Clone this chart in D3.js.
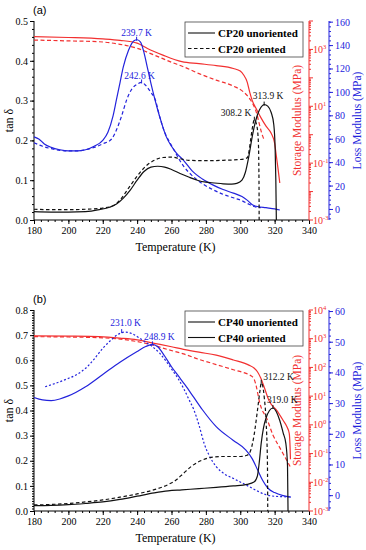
<!DOCTYPE html>
<html>
<head>
<meta charset="utf-8">
<script src="https://cdn.jsdelivr.net/npm/d3@7"></script>
<style>
body{margin:0;background:#fff}
text{font-family:"Liberation Serif",serif !important}
text.sans{font-family:"Liberation Sans",Arial,sans-serif !important}
</style>
</head>
<body>
<div id="chart"></div>
<script>
//----------------------------- DATA -----------------------------//
// temperature ticks (K)
const tempTicks=[180,200,220,240,260,280,300,320,340];

// panel (a) CP20 : [T (K), tan delta]
const tanUnorA=[[180,0.021],[190,0.02],[200,0.02],[210,0.021],[218,0.026],[224,0.032],[228,0.04],[232,0.055],[236,0.075],[240,0.1],[244,0.122],[248,0.133],[252,0.135],[256,0.133],[260,0.127],[265,0.117],[270,0.108],[275,0.1],[280,0.095],[285,0.093],[290,0.091],[295,0.09],[298,0.092],[301,0.1],[303,0.12],[305,0.16],[307,0.21],[309,0.25],[311,0.275],[313,0.288],[314,0.29],[316,0.286],[318,0.27],[319.5,0.24],[320.3,0.18],[320.7,0.1],[321,0.0]];
const tanOriA=[[180,0.027],[190,0.026],[200,0.026],[210,0.027],[220,0.03],[226,0.036],[230,0.05],[235,0.08],[240,0.11],[245,0.135],[250,0.15],[255,0.157],[260,0.158],[265,0.154],[270,0.15],[280,0.149],[290,0.15],[300,0.152],[304,0.156],[305,0.17],[306,0.2],[307,0.23],[308.2,0.252],[309.5,0.24],[310.5,0.2],[310.9,0.1],[311,0.0]];
// storage modulus, log10(MPa)
const storUnorA=[[180,3.45],[200,3.42],[220,3.37],[230,3.32],[240,3.22],[246,3.03],[255,2.8],[266,2.57],[276,2.5],[286,2.43],[296,2.33],[300,2.24],[302,2.1],[304,1.86],[305.5,1.5],[307,1.2],[309,0.95],[312,0.6],[315,0.3],[318,0.05],[320,-0.3],[321,-0.75],[322,-1.2],[323,-1.7]];
const storOriA=[[180,3.33],[200,3.3],[218,3.27],[230,3.18],[240,3.04],[250,2.8],[260,2.55],[267,2.39],[276,2.15],[286,1.92],[296,1.71],[302,1.5],[306,1.22],[308,1.0],[309.5,0.76],[311,0.4],[312.5,0.05],[314,-0.2]];
// loss modulus (MPa)
const lossUnorA=[[180,62],[183,60],[186,56],[190,53],[195,51],[200,50],[205,50],[210,51],[215,54],[220,59],[223,66],[226,80],[228,94],[230,108],[232,122],[235,136],[238,144],[240,145],[242,143],[244,134],[246,121],[248,108],[250,96],[252,85],[254,75],[257,62],[260,54],[263,48],[267,42],[272,33],[278,26],[284,21],[290,17],[296,14],[301,11],[304,8],[307,4],[310,2.5],[315,1.5],[320,0.5],[323,-0.5]];
const lossOriA=[[180,57],[185,54],[190,52],[195,50.5],[200,50],[205,50],[210,51],[215,53],[220,56],[225,60],[228,68],[231,80],[234,94],[237,103],[240,107],[242.6,108.5],[245,106],[248,100],[250.5,94],[253,80],[256,66],[258,60],[261,52],[264,44],[267,37],[272,29],[278,22],[284,17],[290,13],[296,10],[301,7.5],[305,4.5],[308,2.5],[312,1.5]];

// panel (b) CP40
const tanUnorB=[[180,0.021],[190,0.022],[200,0.025],[210,0.03],[220,0.036],[230,0.046],[240,0.059],[250,0.072],[258,0.08],[266,0.084],[276,0.089],[286,0.094],[296,0.1],[304,0.106],[308,0.115],[310,0.14],[311,0.19],[312.2,0.27],[313.5,0.33],[315,0.37],[317,0.4],[319,0.41],[321,0.395],[323,0.36],[325,0.31],[326.5,0.27],[327.5,0.18],[327.8,0.0]];
const tanOriB=[[180,0.024],[190,0.026],[200,0.03],[210,0.036],[220,0.044],[230,0.055],[240,0.068],[250,0.085],[258,0.105],[263,0.125],[267,0.15],[272,0.18],[277,0.2],[282,0.212],[290,0.217],[300,0.217],[304,0.222],[306,0.24],[308,0.3],[310,0.4],[311.5,0.48],[312.2,0.51],[313,0.5],[314,0.45],[315,0.36],[315.8,0.2],[316,0.0]];
const storUnorB=[[180,3.1],[200,3.09],[218,3.07],[230,3.02],[240,2.96],[250,2.84],[260,2.72],[267,2.63],[276,2.53],[286,2.43],[296,2.26],[305,2.08],[308,1.98],[310,1.85],[312,1.62],[314,1.3],[317,0.81],[321,0.52],[325,0.15],[327,-0.05],[328.5,-0.3],[329,-0.8],[329.2,-1.2]];
const storOriB=[[180,3.07],[200,3.06],[220,3.03],[235,2.95],[249,2.78],[258,2.62],[267,2.47],[276,2.28],[286,2.1],[296,1.92],[303,1.8],[306,1.72],[308,1.6],[309.5,1.3],[311,0.85],[312.5,0.55],[315,0.28],[319,-0.35],[324,-0.9],[329,-1.45]];
const lossUnorB=[[180,32],[185,31.2],[190,31],[195,31.5],[200,32.5],[210,35.5],[220,39.5],[230,43.5],[240,47],[245,48.6],[249,49.3],[252,48.5],[256,45.5],[260,42],[264,39],[268,36],[273,32],[278,28],[286,22.5],[296,18],[303,15],[307,12],[310,8.5],[313,5],[316,2.5],[320,1],[325,0],[329.5,-0.5]];
const lossOriB=[[186.5,35.5],[192,36.5],[199,38],[205,39.5],[210,41.5],[215,44.5],[220,48],[225,50.8],[229,52.6],[233,53.3],[237,52.8],[241,51.5],[245,50],[249,48.5],[253,46.5],[257,43.7],[261,40.5],[264,38],[267,35],[270,31.5],[273,28],[276,23],[279,17],[282,13],[286,9.5],[291,7],[296,5.6],[305,3],[310,1.5],[315,0.3],[320,-0.2],[328.7,-0.4]];

// peak annotations: text, T, value, which axis
const peaksA=[["239.7 K",239.7,145,"loss"],["242.6 K",242.6,108.5,"loss"],["313.9 K",313.9,0.29,"tan"],["308.2 K",308.2,0.252,"tan"]];
const peaksB=[["231.0 K",231.0,53.3,"loss"],["248.9 K",248.9,49.3,"loss"],["312.2 K",312.2,0.51,"tan"],["319.0 K",319.0,0.41,"tan"]];

const legendA=["CP20 unoriented","CP20 oriented"];
const legendB=["CP40 unoriented","CP40 oriented"];

//--------------------------- DRAWING ----------------------------//
const RED="#f23030", BLUE="#2323dc", BLACK="#111";
const SERIF="'Liberation Serif', serif";
const left=34, right=309;

const svg=d3.select("#chart").append("svg")
    .attr("width",366).attr("height",550)
    .style("font-family",SERIF);

const x=d3.scaleLinear().domain([180,340]).range([left,right]);

function txt(g){
    return g.append("text").style("font-family",SERIF);
}

function sup(g,xx,yy,exp,color){
    const t=txt(g).attr("x",xx).attr("y",yy)
        .attr("fill",color).style("font-size","10px").text("10");
    t.append("tspan").attr("dy",-4).style("font-size","6.5px").text(exp);
}

function drawPanel(p){
    const g=svg.append("g");
    const top=p.top, bot=p.bottom;

    const yT=d3.scaleLinear().domain([0,p.tanMax]).range([bot,top]);
    const yR=d3.scaleLog().domain([1e-3,1e4]).range([bot,top]);
    const yB=d3.scaleLinear().domain(p.lossDomain).range([bot,top]);

    //------ x axis
    g.append("g").attr("transform","translate(0,"+bot+")")
        .call(d3.axisBottom(x).tickValues(d3.range(180,341,4)).tickSize(2).tickFormat(""))
        .call(a=>a.select(".domain").remove());
    const xa=g.append("g").attr("transform","translate(0,"+bot+")")
        .attr("font-family",null)
        .call(d3.axisBottom(x).tickValues(tempTicks).tickSize(4).tickPadding(3).tickFormat(d3.format("d")));
    xa.attr("font-family",SERIF);
    xa.selectAll("text").style("font-size","10px").style("font-family",SERIF);
    xa.select(".domain").attr("d","M"+left+",0H"+right);

    //------ left axis
    g.append("g").attr("transform","translate("+left+",0)")
        .call(d3.axisLeft(yT).tickValues(d3.range(0,p.tanMax+1e-9,p.tanMinor)).tickSize(2).tickFormat(""))
        .call(a=>a.select(".domain").remove());
    const ya=g.append("g").attr("transform","translate("+left+",0)")
        .call(d3.axisLeft(yT).tickValues(d3.range(0,p.tanMax+1e-9,0.1)).tickSize(4).tickPadding(2).tickFormat(d3.format(".1f")));
    ya.attr("font-family",SERIF);
    ya.selectAll("text").style("font-size","10px").style("font-family",SERIF);
    ya.select(".domain").attr("d","M0,"+bot+"V"+top);

    //------ red log axis
    const ra=g.append("g").attr("stroke",RED);
    ra.append("line").attr("x1",right).attr("x2",right).attr("y1",top).attr("y2",bot);
    for(let e=-3;e<=4;e++){
        ra.append("line").attr("x1",right).attr("x2",right+4)
            .attr("y1",yR(Math.pow(10,e))).attr("y2",yR(Math.pow(10,e)));
        if(e<4) for(let m=2;m<=9;m++){
            const v=m*Math.pow(10,e);
            ra.append("line").attr("x1",right).attr("x2",right+2).attr("y1",yR(v)).attr("y2",yR(v));
        }
    }
    p.redLabels.forEach(e=>sup(g,right+4,yR(Math.pow(10,e))+3.5,String(e),RED));

    //------ blue linear axis
    const bx=right+20;
    const ba=g.append("g").attr("stroke",BLUE);
    ba.append("line").attr("x1",bx).attr("x2",bx).attr("y1",top).attr("y2",bot);
    d3.range(Math.ceil(p.lossDomain[0]/p.lossMinor)*p.lossMinor,p.lossDomain[1],p.lossMinor).forEach(v=>{
        ba.append("line").attr("x1",bx).attr("x2",bx+2).attr("y1",yB(v)).attr("y2",yB(v));
    });
    p.lossTicks.forEach(v=>{
        ba.append("line").attr("x1",bx).attr("x2",bx+4).attr("y1",yB(v)).attr("y2",yB(v));
        txt(g).attr("x",bx+6).attr("y",yB(v)+3.5).attr("fill",BLUE)
            .style("font-size","10px").text(v);
    });

    //------ axis titles
    txt(g).attr("x",(left+right)/2+4).attr("y",bot+31)
        .attr("text-anchor","middle").style("font-size","12px").text("Temperature (K)");
    txt(g).attr("transform","translate(13,"+((top+bot)/2)+") rotate(-90)")
        .attr("text-anchor","middle").style("font-size","12px").text("tan δ");
    txt(g).attr("transform","translate("+(right-8)+","+((top+bot)/2)+") rotate(-90)")
        .attr("text-anchor","middle").attr("fill",RED).style("font-size","11.5px").text("Storage Modulus (MPa)");
    txt(g).attr("transform","translate(361,"+((top+bot)/2)+") rotate(-90)")
        .attr("text-anchor","middle").attr("fill",BLUE).style("font-size","11.5px").text("Loss Modulus (MPa)");
    g.append("text").attr("class","sans").attr("x",33).attr("y",top-7)
        .style("font-size","11px").text(p.letter);

    //------ curves
    const lineT=d3.line().x(d=>x(d[0])).y(d=>yT(d[1])).curve(d3.curveMonotoneX);
    const lineR=d3.line().x(d=>x(d[0])).y(d=>yR(Math.pow(10,d[1]))).curve(d3.curveMonotoneX);
    const lineB=d3.line().x(d=>x(d[0])).y(d=>yB(d[1])).curve(d3.curveMonotoneX);
    const curves=[
        [lineR(p.storUnor),RED,null],[lineR(p.storOri),RED,"4,2.5"],
        [lineB(p.lossUnor),BLUE,null],[lineB(p.lossOri),BLUE,p.blueDash],
        [lineT(p.tanUnor),BLACK,null],[lineT(p.tanOri),BLACK,"3.5,2.5"]
    ];
    g.selectAll(".curve").data(curves).enter().append("path")
        .attr("d",d=>d[0]).attr("fill","none").attr("stroke",d=>d[1])
        .attr("stroke-width",1.2).attr("stroke-dasharray",d=>d[2]);

    //------ peak labels
    p.peaks.forEach((pk,i)=>{
        const px=x(pk[1]);
        const py=pk[3]=="tan"?yT(pk[2]):yB(pk[2]);
        const off=p.peakOff[i];
        txt(g).attr("x",px+off[0]).attr("y",py+off[1])
            .attr("text-anchor",off[2]).attr("fill",pk[3]=="tan"?BLACK:BLUE)
            .style("font-size","9.5px").text(pk[0]);
        g.append("line").attr("x1",px).attr("x2",px).attr("y1",py-3).attr("y2",py+1)
            .attr("stroke",pk[3]=="tan"?BLACK:BLUE).attr("stroke-width",1);
    });

    //------ legend
    const lg=g.append("g").attr("transform","translate(185,"+(top+1)+")");
    lg.append("rect").attr("width",118).attr("height",35)
        .attr("fill","#fff").attr("stroke","#444").attr("stroke-width",0.8);
    p.legend.forEach((name,i)=>{
        const ly=11+i*15.5;
        lg.append("line").attr("x1",3).attr("x2",30).attr("y1",ly).attr("y2",ly)
            .attr("stroke",BLACK).attr("stroke-width",1.1)
            .attr("stroke-dasharray",(i==1&&p.legendDash)?"3.5,2.5":null);
        txt(lg).attr("x",33).attr("y",ly+4).style("font-size","11px")
            .style("font-weight","bold").text(name);
    });
}

drawPanel({top:21,bottom:220,tanMax:0.5,tanMinor:0.02,
    lossDomain:[-9,161],lossTicks:[0,20,40,60,80,100,120,140,160],lossMinor:4,
    redLabels:[-3,-1,1,3],letter:"(a)",
    tanUnor:tanUnorA,tanOri:tanOriA,storUnor:storUnorA,storOri:storOriA,
    lossUnor:lossUnorA,lossOri:lossOriA,blueDash:"3.5,2.5",
    peaks:peaksA,peakOff:[[0,-4,"middle"],[-2,-3,"middle"],[4,-6,"middle"],[-3,-4,"end"]],
    legend:legendA,legendDash:true});

drawPanel({top:310,bottom:511,tanMax:0.8,tanMinor:0.01,
    lossDomain:[-5,60.5],lossTicks:[0,10,20,30,40,50,60],lossMinor:2,
    redLabels:[-3,-2,-1,0,1,2,3,4],letter:"(b)",
    tanUnor:tanUnorB,tanOri:tanOriB,storUnor:storUnorB,storOri:storOriB,
    lossUnor:lossUnorB,lossOri:lossOriB,blueDash:"2,2",
    peaks:peaksB,peakOff:[[4,-6,"middle"],[7,-4,"middle"],[2,-3,"start"],[-6,-5,"start"]],
    legend:legendB,legendDash:false});
</script>
</body>
</html>
